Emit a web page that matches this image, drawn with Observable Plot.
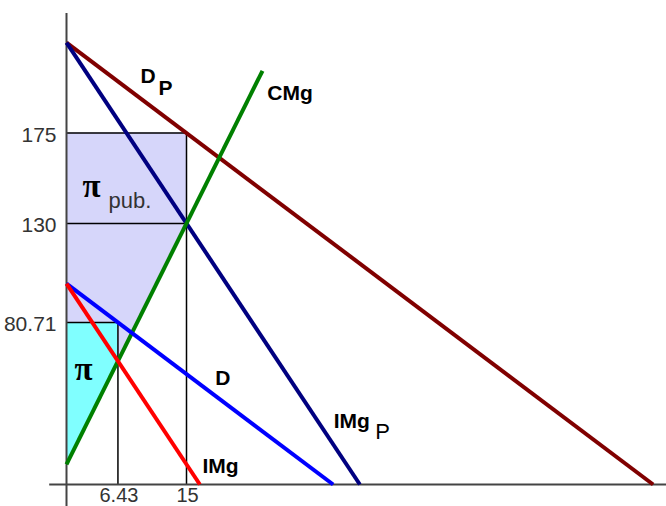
<!DOCTYPE html>
<html>
<head>
<meta charset="utf-8">
<script src="https://cdn.jsdelivr.net/npm/d3@7"></script>
<script src="https://cdn.jsdelivr.net/npm/@observablehq/plot@0.6"></script>
<style>
  html, body { margin: 0; padding: 0; background: #fff; }
  #chart svg { display: block; }
</style>
</head>
<body>
<div id="chart"></div>
<script>
// Monopoly vs. public (regulated) firm: demand, marginal revenue and marginal cost.
// Quantities on x, prices on y. Each curve is given by its two end points [q, p].
const demandPublic = [[0, 220], [73.33, 0]];      // D_P
const marginalRevPublic = [[0, 220], [36.67, 0]]; // IMg_P
const demand = [[0, 100], [33.33, 0]];            // D
const marginalRev = [[0, 100], [16.67, 0]];       // IMg
const marginalCost = [[0, 10], [24.5, 206]];      // CMg

// Equilibrium values shown on the axes
const priceTicks = [175, 130, 80.71];
const quantityTicks = [6.43, 15];

// Guide lines from the axes to each equilibrium
const guidesH = [{p: 175, q: 15}, {p: 130, q: 15}, {p: 80.71, q: 6.43}];
const guidesV = [{q: 15, p: 175}, {q: 6.43, p: 80.71}];

// Shaded profit areas: lower and upper price bounds along q
const profitPublic = [
  {q: 0, lo: 80.71, hi: 175},
  {q: 6.43, lo: 80.71, hi: 175},
  {q: 6.43, lo: 61.43, hi: 175},
  {q: 15, lo: 130, hi: 175}
];
const profitMonopoly = [
  {q: 0, lo: 10, hi: 80.71},
  {q: 6.43, lo: 61.43, hi: 80.71}
];

// Curve labels (left end of the baseline)
const curveLabels = [
  {text: "D", q: 9.25, p: 199.7},
  {text: "CMg", q: 25.1, p: 191.7},
  {text: "D", q: 18.6, p: 49.3},
  {text: "IMg", q: 17, p: 5.5},
  {text: "IMg", q: 33.4, p: 27.9}
];
const subLabelsBold = [{text: "P", q: 11.5, p: 193.7}];
const subLabels = [{text: "P", q: 38.6, p: 22.9}];
const piLabels = [{text: "π", q: 2, p: 143.4}, {text: "π", q: 1, p: 51.8}];
const pubLabel = [{text: "pub.", q: 5.25, p: 137.5}];

const curves = [
  {pts: demandPublic, color: "#800000"},
  {pts: marginalRevPublic, color: "#000080"},
  {pts: marginalCost, color: "#008000"},
  {pts: demand, color: "#0000ff"},
  {pts: marginalRev, color: "#ff0000"}
];

const chart = Plot.plot({
  width: 666,
  height: 506,
  marginLeft: 66,
  marginRight: 0,
  marginTop: 2,
  marginBottom: 22,
  x: {domain: [0, 75], axis: null},
  y: {domain: [0, 240], axis: null},
  style: {fontFamily: "'Liberation Sans', Arial, sans-serif", background: "#fff", overflow: "visible"},
  marks: [
    Plot.areaY(profitPublic, {x: "q", y1: "lo", y2: "hi", fill: "#d6d6fa"}),
    Plot.areaY(profitMonopoly, {x: "q", y1: "lo", y2: "hi", fill: "#80ffff"}),
    Plot.ruleY(guidesH, {y: "p", x1: 0, x2: "q", stroke: "#000", strokeWidth: 1.5}),
    Plot.ruleX(guidesV, {x: "q", y1: 0, y2: "p", stroke: "#000", strokeWidth: 1.5}),
    // axes
    Plot.ruleX([0], {y1: -11, y2: 234.5, stroke: "#444", strokeWidth: 2}),
    Plot.ruleY([0], {x1: -2.1, x2: 75, stroke: "#444", strokeWidth: 2}),
    ...curves.map(c => Plot.line(c.pts, {x: d => d[0], y: d => d[1], stroke: c.color, strokeWidth: 4, strokeLinecap: "butt"})),
    Plot.axisY(priceTicks, {tickSize: 0, tickPadding: 10, fontSize: 21, fill: "#333", dy: 2, tickFormat: d => `${d}`, label: null}),
    Plot.axisX(quantityTicks, {tickSize: 0, tickPadding: 3, fontSize: 20, fill: "#333", dx: 1, tickFormat: d => `${d}`, label: null}),
    Plot.text(curveLabels, {x: "q", y: "p", text: "text", textAnchor: "start", lineAnchor: "bottom", fontSize: 21, fontWeight: "bold", fill: "#000"}),
    Plot.text(subLabelsBold, {x: "q", y: "p", text: "text", textAnchor: "start", lineAnchor: "bottom", fontSize: 21, fontWeight: "bold", fill: "#000"}),
    Plot.text(subLabels, {x: "q", y: "p", text: "text", textAnchor: "start", lineAnchor: "bottom", fontSize: 22, fill: "#000"}),
    Plot.text(piLabels, {x: "q", y: "p", text: "text", textAnchor: "start", lineAnchor: "bottom", fontSize: 33, fontWeight: "bold", fontFamily: "'Liberation Serif', 'Times New Roman', serif", fill: "#000"}),
    Plot.text(pubLabel, {x: "q", y: "p", text: "text", textAnchor: "start", lineAnchor: "bottom", fontSize: 22, fill: "#333"})
  ]
});

document.getElementById("chart").appendChild(chart);
</script>
</body>
</html>
